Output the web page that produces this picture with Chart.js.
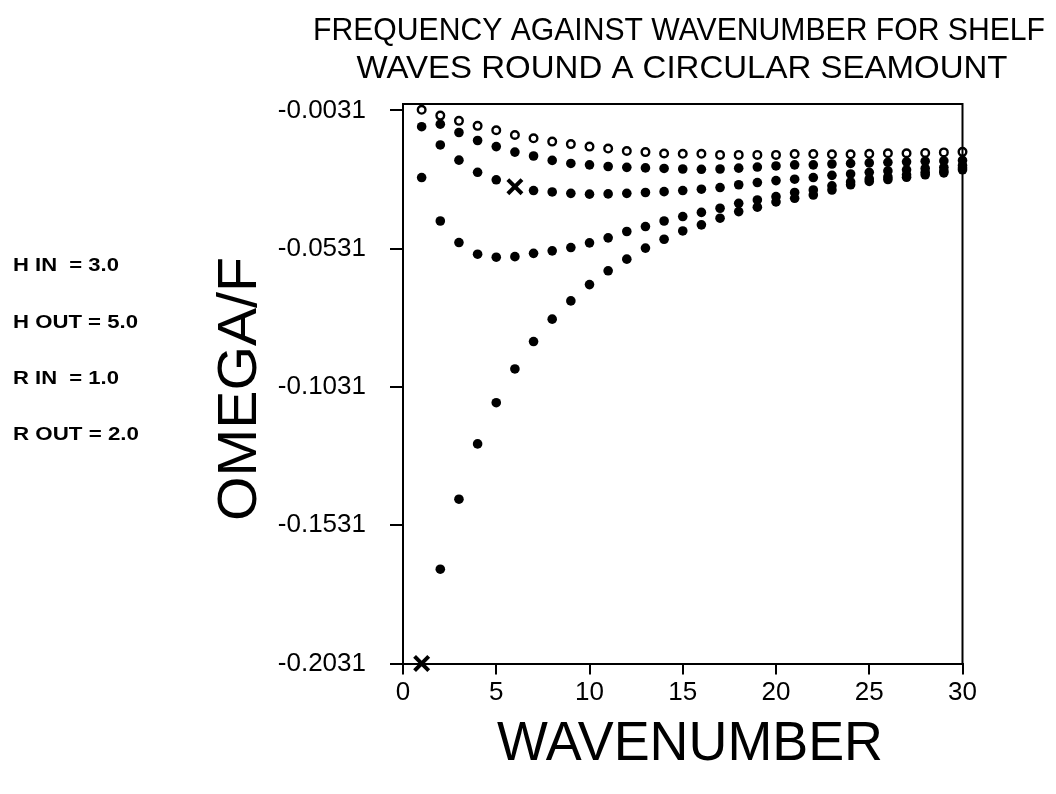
<!DOCTYPE html>
<html>
<head>
<meta charset="utf-8">
<script src="https://cdn.jsdelivr.net/npm/chart.js@4"></script>
<style>
  html, body { margin: 0; padding: 0; background: #fff; }
  #wrap { width: 1056px; height: 794px; }
</style>
</head>
<body>
<div id="wrap"><canvas id="chart" width="1056" height="794"></canvas></div>
<script>
// wavenumber 1..30
const wavenumbers = Array.from({ length: 30 }, (_, i) => i + 1);

// omega/f, one list per mode (null = no dot drawn)
const mode1Open = [-0.0029, -0.0050, -0.0069, -0.0087, -0.0103, -0.0120, -0.0132, -0.0144, -0.0153, -0.0162,
  -0.0169, -0.0178, -0.0182, -0.0187, -0.0188, -0.0188, -0.0192, -0.0192, -0.0192, -0.0192,
  -0.0189, -0.0189, -0.0190, -0.0190, -0.0188, -0.0186, -0.0186, -0.0185, -0.0183, -0.0181];
const mode2 = [-0.0090, -0.0081, -0.0111, -0.0140, -0.0162, -0.0182, -0.0196, -0.0212, -0.0223, -0.0228,
  -0.0234, -0.0237, -0.0239, -0.0241, -0.0243, -0.0244, -0.0243, -0.0240, -0.0236, -0.0232,
  -0.0228, -0.0228, -0.0225, -0.0223, -0.0221, -0.0219, -0.0217, -0.0215, -0.0214, -0.0212];
const mode3 = [null, -0.0156, -0.0211, -0.0255, -0.0282, null, -0.0321, -0.0326, -0.0331, -0.0334,
  -0.0333, -0.0331, -0.0328, -0.0325, -0.0321, -0.0316, -0.0310, -0.0300, -0.0292, -0.0285,
  -0.0280, -0.0274, -0.0266, -0.0261, -0.0255, -0.0250, -0.0246, -0.0241, -0.0237, -0.0230];
const mode4 = [-0.0274, -0.0431, -0.0509, -0.0551, -0.0562, -0.0560, -0.0548, -0.0539, -0.0527, -0.0510,
  -0.0492, -0.0469, -0.0451, -0.0431, -0.0415, -0.0400, -0.0385, -0.0367, -0.0355, -0.0343,
  -0.0328, -0.0319, -0.0304, -0.0290, -0.0279, -0.0272, -0.0264, -0.0255, -0.0250, -0.0239];
const mode5 = [null, -0.1690, -0.1437, -0.1237, -0.1088, -0.0966, -0.0867, -0.0786, -0.0720, -0.0661,
  -0.0611, -0.0569, -0.0529, -0.0497, -0.0467, -0.0445, -0.0421, -0.0397, -0.0381, -0.0362,
  -0.0349, -0.0337, -0.0319, -0.0300, -0.0288, -0.0281, -0.0273, -0.0264, -0.0257, -0.0246];

// the two points marked with a cross
const crossX = [1, 6];
const crossY = [-0.2031, -0.0307];

const yTickValues = [-0.2031, -0.1531, -0.1031, -0.0531, -0.0031];
const xTickValues = [0, 5, 10, 15, 20, 25, 30];

const titleLines = ['FREQUENCY AGAINST WAVENUMBER FOR SHELF', 'WAVES ROUND A CIRCULAR SEAMOUNT'];
const paramLabels = ['H IN  = 3.0', 'H OUT = 5.0', 'R IN  = 1.0', 'R OUT = 2.0'];

const FONT = '"Liberation Sans", Arial, Helvetica, sans-serif';

const toPoints = (ys) => wavenumbers.map((x, i) => ({ x: x, y: ys[i] })).filter(p => p.y !== null);

const dotSet = (ys) => ({
    data: toPoints(ys),
    pointStyle: 'circle',
    pointRadius: 4.8,
    backgroundColor: '#000',
    borderColor: '#000',
    borderWidth: 0,
    showLine: false,
    clip: false
});

// draws a text stretched to a given width
function putText(ctx, text, x, y, size, weight, width, align, rotate) {
    ctx.save();
    ctx.font = `${weight} ${size}px ${FONT}`;
    const w = ctx.measureText(text).width;
    ctx.translate(x, y);
    if (rotate) ctx.rotate(-Math.PI / 2);
    ctx.scale(width ? width / w : 1, 1);
    ctx.textAlign = align;
    ctx.textBaseline = 'middle';
    ctx.fillStyle = '#000';
    ctx.fillText(text, 0, 0);
    ctx.restore();
}

const decorations = {
    id: 'decorations',
    afterDraw(chart) {
        const ctx = chart.ctx;
        const a = chart.chartArea;

        // frame top + right
        ctx.save();
        ctx.strokeStyle = '#000';
        ctx.lineWidth = 2;
        ctx.beginPath();
        ctx.moveTo(a.left, a.top);
        ctx.lineTo(a.right, a.top);
        ctx.lineTo(a.right, a.bottom);
        ctx.stroke();
        ctx.restore();

        putText(ctx, titleLines[0], 679, 31, 31, 'normal', 732, 'center');
        putText(ctx, titleLines[1], 682, 69, 31, 'normal', 651, 'center');

        putText(ctx, 'OMEGA/F', 241, 389, 55, 'normal', 264, 'center', true);
        putText(ctx, 'WAVENUMBER', 690, 745, 55, 'normal', 386, 'center');

        const ys = [266, 323, 379, 435];
        const ws = [106, 125, 106, 126];
        paramLabels.forEach((t, i) => putText(ctx, t, 13, ys[i], 19, 'bold', ws[i], 'left'));
    }
};

new Chart(document.getElementById('chart'), {
    type: 'scatter',
    data: {
        datasets: [
            {
                data: toPoints(mode1Open),
                pointStyle: 'circle',
                pointRadius: 3.8,
                backgroundColor: '#fff',
                borderColor: '#000',
                borderWidth: 2.4,
                showLine: false,
                clip: false
            },
            dotSet(mode2),
            dotSet(mode3),
            dotSet(mode4),
            dotSet(mode5),
            {
                data: crossX.map((x, i) => ({ x: x, y: crossY[i] })),
                pointStyle: 'crossRot',
                pointRadius: 10,
                borderColor: '#000',
                borderWidth: 4,
                showLine: false,
                clip: false
            }
        ]
    },
    options: {
        responsive: false,
        animation: false,
        layout: { padding: { left: 0, right: 93.5, top: 104, bottom: 0 } },
        plugins: {
            legend: { display: false },
            tooltip: { enabled: false }
        },
        scales: {
            x: {
                type: 'linear',
                min: 0,
                max: 30,
                afterBuildTicks: (scale) => { scale.ticks = xTickValues.map(v => ({ value: v })); },
                afterFit: (scale) => { scale.height = 130.5; },
                ticks: {
                    color: '#000',
                    font: { family: FONT, size: 26 },
                    padding: 3,
                    maxRotation: 0
                },
                grid: { drawOnChartArea: false, drawTicks: true, tickLength: 11, color: '#000', lineWidth: 2 },
                border: { display: true, color: '#000', width: 2 }
            },
            y: {
                type: 'linear',
                min: -0.2031,
                max: -0.0008,
                afterBuildTicks: (scale) => { scale.ticks = yTickValues.map(v => ({ value: v })); },
                afterFit: (scale) => { scale.width = 403; },
                ticks: {
                    color: '#000',
                    font: { family: FONT, size: 26 },
                    padding: 24,
                    callback: (v) => v.toFixed(4)
                },
                grid: { drawOnChartArea: false, drawTicks: true, tickLength: 13, color: '#000', lineWidth: 2 },
                border: { display: true, color: '#000', width: 2 }
            }
        }
    },
    plugins: [decorations]
});
</script>
</body>
</html>
